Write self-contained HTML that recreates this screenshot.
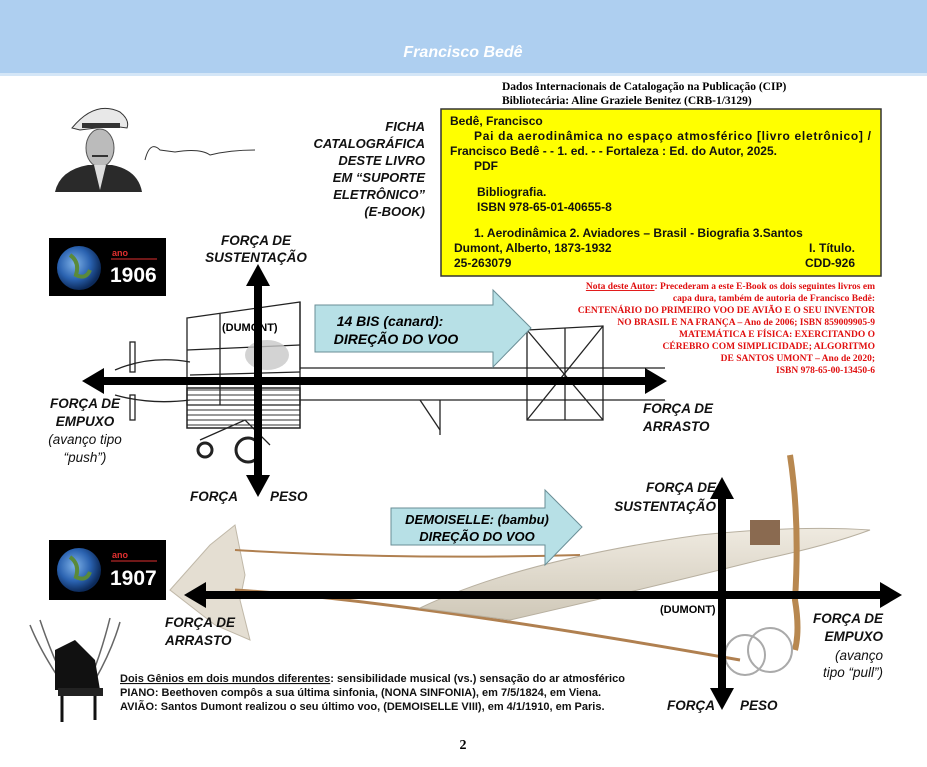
<!DOCTYPE html>
<html><head><meta charset="utf-8"><style>
html,body{margin:0;padding:0;background:#fff;}
body{width:927px;height:767px;overflow:hidden;position:relative;font-family:"Liberation Sans",sans-serif;}
svg{position:absolute;left:0;top:0;}
.b{font-weight:bold;}
.bi{font-weight:bold;font-style:italic;}
.ser{font-family:"Liberation Serif",serif;}
</style></head><body>
<svg width="927" height="767" viewBox="0 0 927 767" xmlns="http://www.w3.org/2000/svg" font-family="Liberation Sans, sans-serif">
<defs>
<radialGradient id="earth" cx="40%" cy="40%" r="60%"><stop offset="0" stop-color="#7fb2e8"/><stop offset="0.6" stop-color="#2a62b0"/><stop offset="1" stop-color="#0c2a5a"/></radialGradient>
<linearGradient id="wing" x1="0" y1="0" x2="0" y2="1"><stop offset="0" stop-color="#efeae0"/><stop offset="1" stop-color="#cfc8b8"/></linearGradient>
</defs>
<rect x="0" y="0" width="927" height="73" fill="#aecff0"/>
<rect x="0" y="73" width="927" height="3" fill="#d4e6f7"/>
<text x="463" y="57" text-anchor="middle" fill="#fff" font-size="16" class="bi">Francisco Bedê</text>

<!-- CIP -->
<text x="502" y="90" font-size="11.5" class="ser b" font-family="Liberation Serif, serif">Dados Internacionais de Catalogação  na Publicação  (CIP)</text>
<text x="502" y="104" font-size="11.5" font-weight="bold" font-family="Liberation Serif, serif">Bibliotecária:  Aline Graziele Benitez (CRB-1/3129)</text>
<rect x="441" y="109" width="440" height="167" fill="#ffff00" stroke="#333" stroke-width="1.5"/>
<g font-size="12" font-weight="bold" fill="#111">
<text x="450" y="125">Bedê,  Francisco</text>
<text x="474" y="140" textLength="397" lengthAdjust="spacing">Pai da aerodinâmica no espaço atmosférico [livro eletrônico] /</text>
<text x="450" y="155">Francisco Bedê  - -  1. ed. - - Fortaleza  :  Ed. do Autor, 2025.</text>
<text x="474" y="170">PDF</text>
<text x="477" y="196">Bibliografia.</text>
<text x="477" y="211">ISBN  978-65-01-40655-8</text>
<text x="474" y="237">1. Aerodinâmica  2. Aviadores – Brasil - Biografia 3.Santos</text>
<text x="454" y="252">Dumont, Alberto, 1873-1932</text>
<text x="855" y="252" text-anchor="end">I. Título.</text>
<text x="454" y="267">25-263079</text>
<text x="855" y="267" text-anchor="end">CDD-926</text>
</g>
<!-- note red -->
<g font-size="9.5" font-weight="bold" fill="#e01010" font-family="Liberation Serif, serif" text-anchor="end">
<text x="875" y="289"><tspan text-decoration="underline">Nota deste Autor</tspan>: Precederam a este E-Book os dois seguintes livros em</text>
<text x="875" y="301">capa dura, também de autoria de Francisco Bedê:</text>
<text x="875" y="313">CENTENÁRIO DO PRIMEIRO VOO DE AVIÃO E O SEU INVENTOR</text>
<text x="875" y="325">NO BRASIL E NA FRANÇA – Ano de 2006; ISBN 859009905-9</text>
<text x="875" y="337">MATEMÁTICA E FÍSICA: EXERCITANDO O</text>
<text x="875" y="349">CÉREBRO COM SIMPLICIDADE; ALGORITMO</text>
<text x="875" y="361">DE SANTOS UMONT – Ano de 2020;</text>
<text x="875" y="373">ISBN 978-65-00-13450-6</text>
</g>

<!-- portrait -->
<path d="M72 128 Q95 100 120 112 Q130 120 127 128 L112 126 L80 130 Z" fill="#e8e8e8" stroke="#333"/>
<rect x="82" y="123" width="38" height="5" fill="#333"/>
<ellipse cx="100" cy="148" rx="14" ry="19" fill="#bbb" stroke="#555"/>
<rect x="92" y="155" width="16" height="2" fill="#333"/>
<path d="M55 192 Q60 170 88 165 L112 165 Q138 170 142 192 Z" fill="#2a2a2a"/>
<path d="M94 165 L100 190 L106 165 Z" fill="#ddd"/>
<path d="M145 160 Q150 140 160 150 L175 152 Q200 148 210 155 Q230 150 255 150" fill="none" stroke="#333" stroke-width="1"/>
<g font-size="13" class="bi" fill="#111" text-anchor="end">
<text x="425" y="131">FICHA</text><text x="425" y="148">CATALOGRÁFICA</text><text x="425" y="165">DESTE LIVRO</text><text x="425" y="182">EM “SUPORTE</text><text x="425" y="199">ELETRÔNICO”</text><text x="425" y="216">(E-BOOK)</text>
</g>

<!-- earth boxes -->
<rect x="49" y="238" width="117" height="58" fill="#000"/>
<circle cx="79" cy="268" r="22" fill="url(#earth)"/><path d="M70 255 Q80 262 76 275 Q86 280 90 270" fill="none" stroke="#5a8a3a" stroke-width="4"/>
<text x="112" y="256" fill="#e03030" font-size="9" font-weight="bold">ano</text><line x1="111" y1="259" x2="157" y2="259" stroke="#e03030"/>
<text x="110" y="282" fill="#fff" font-size="21" font-weight="bold">1906</text>
<rect x="49" y="540" width="117" height="60" fill="#000"/>
<circle cx="79" cy="570" r="22" fill="url(#earth)"/><path d="M70 557 Q80 564 76 577 Q86 582 90 572" fill="none" stroke="#5a8a3a" stroke-width="4"/>
<text x="112" y="558" fill="#e03030" font-size="9" font-weight="bold">ano</text><line x1="111" y1="561" x2="157" y2="561" stroke="#e03030"/>
<text x="110" y="585" fill="#fff" font-size="21" font-weight="bold">1907</text>

<!-- 14 bis plane sketch -->
<g fill="none" stroke="#222" stroke-width="1.3">
<path d="M187 318 L300 302 L300 405 L187 405 Z"/>
<line x1="187" y1="350" x2="300" y2="345"/><line x1="220" y1="314" x2="220" y2="405"/><line x1="190" y1="375" x2="300" y2="372"/>
<path d="M300 302 L300 370"/><line x1="300" y1="368" x2="665" y2="368"/><line x1="300" y1="400" x2="665" y2="400"/>
<path d="M527 330 L603 326 L603 420 L527 420 Z"/><line x1="527" y1="330" x2="603" y2="420"/><line x1="603" y1="326" x2="527" y2="420"/><line x1="565" y1="328" x2="565" y2="420"/>
<path d="M115 370 Q150 355 190 362"/><path d="M115 395 Q150 405 190 400"/>
<rect x="130" y="342" width="5" height="30"/><rect x="130" y="395" width="5" height="25"/>
<circle cx="205" cy="450" r="7" stroke-width="3"/><circle cx="248" cy="450" r="12" stroke-width="3"/>
<path d="M200 440 L245 420 L270 445"/>
<line x1="420" y1="400" x2="440" y2="430"/><line x1="440" y1="400" x2="440" y2="435"/>
</g>
<g stroke="#333" stroke-width="1">
<line x1="187" y1="390" x2="300" y2="390"/><line x1="187" y1="395" x2="300" y2="395"/><line x1="187" y1="400" x2="300" y2="400"/><line x1="187" y1="410" x2="300" y2="410"/><line x1="187" y1="415" x2="300" y2="415"/><line x1="187" y1="420" x2="300" y2="420"/><line x1="187" y1="425" x2="300" y2="425"/>
</g>
<rect x="187" y="388" width="113" height="40" fill="none" stroke="#222" stroke-width="1.5"/>
<ellipse cx="267" cy="355" rx="22" ry="15" fill="#c8c8c8" opacity="0.8"/>
<text x="222" y="331" font-size="11" font-weight="bold">(DUMONT)</text>

<!-- demoiselle -->
<path d="M170 590 L210 545 L235 525 L245 575 L240 600 L250 640 L215 625 Z" fill="#e4ded2" stroke="#c0b8a8"/>
<path d="M235 550 Q400 560 580 555" fill="none" stroke="#b08050" stroke-width="2"/>
<path d="M235 590 Q400 600 740 660" fill="none" stroke="#b08050" stroke-width="3"/>
<path d="M420 608 Q520 560 700 535 Q800 525 870 530 Q830 545 760 560 Q640 590 510 620 Z" fill="url(#wing)" stroke="#b8b0a0"/>
<path d="M790 455 Q800 520 795 600 Q800 630 795 650" fill="none" stroke="#b88850" stroke-width="6"/>
<circle cx="770" cy="650" r="22" fill="none" stroke="#aaa" stroke-width="2"/><circle cx="745" cy="655" r="20" fill="none" stroke="#aaa" stroke-width="2"/>
<rect x="750" y="520" width="30" height="25" fill="#8a6a50"/>
<text x="660" y="613" font-size="11" font-weight="bold">(DUMONT)</text>

<!-- blue arrows -->
<path d="M315 305 L493 305 L493 290 L531 328 L493 367 L493 352 L315 352 Z" fill="#b7e0e6" stroke="#6a8e96" stroke-width="1"/>
<text x="390" y="326" text-anchor="middle" font-size="14" class="bi">14  BIS (canard):</text>
<text x="396" y="344" text-anchor="middle" font-size="14" class="bi">DIREÇÃO DO VOO</text>
<path d="M391 508 L545 508 L545 490 L582 527 L545 565 L545 545 L391 545 Z" fill="#b7e0e6" stroke="#6a8e96" stroke-width="1"/>
<text x="477" y="524" text-anchor="middle" font-size="13" class="bi">DEMOISELLE: (bambu)</text>
<text x="477" y="541" text-anchor="middle" font-size="13" class="bi">DIREÇÃO DO VOO</text>

<!-- force arrows 1 -->
<g fill="#000">
<rect x="101" y="377" width="548" height="8"/>
<path d="M82 381 L104 368 L104 394 Z"/><path d="M667 381 L645 368 L645 394 Z"/>
<rect x="254" y="282" width="8" height="200"/>
<path d="M258 264 L246 286 L270 286 Z"/><path d="M258 497 L246 475 L270 475 Z"/>
<!-- 2 -->
<rect x="202" y="591" width="680" height="8"/>
<path d="M184 595 L206 582 L206 608 Z"/><path d="M902 595 L880 582 L880 608 Z"/>
<rect x="718" y="495" width="8" height="197"/>
<path d="M722 477 L710 499 L734 499 Z"/><path d="M722 710 L710 688 L734 688 Z"/>
</g>

<g font-size="13.5" class="bi" fill="#111">
<text x="256" y="245" text-anchor="middle">FORÇA DE</text>
<text x="256" y="262" text-anchor="middle">SUSTENTAÇÃO</text>
<text x="85" y="408" text-anchor="middle">FORÇA DE</text>
<text x="85" y="426" text-anchor="middle">EMPUXO</text>
<text x="85" y="444" text-anchor="middle" font-weight="normal">(avanço tipo</text>
<text x="85" y="462" text-anchor="middle" font-weight="normal">“push”)</text>
<text x="643" y="413">FORÇA DE</text><text x="643" y="431">ARRASTO</text>
<text x="190" y="501">FORÇA</text><text x="270" y="501">PESO</text>
<text x="716" y="492" text-anchor="end">FORÇA DE</text>
<text x="716" y="511" text-anchor="end">SUSTENTAÇÃO</text>
<text x="165" y="627">FORÇA DE</text><text x="165" y="645">ARRASTO</text>
<text x="883" y="623" text-anchor="end">FORÇA DE</text>
<text x="883" y="641" text-anchor="end">EMPUXO</text>
<text x="883" y="660" text-anchor="end" font-weight="normal">(avanço</text>
<text x="883" y="677" text-anchor="end" font-weight="normal">tipo “pull”)</text>
<text x="667" y="710">FORÇA</text><text x="740" y="710">PESO</text>
</g>

<!-- piano -->
<path d="M30 625 Q40 650 60 680 M40 620 Q50 650 62 675 M120 622 Q112 650 95 680 M110 618 Q102 650 92 675" fill="none" stroke="#666" stroke-width="1.5"/>
<path d="M55 650 L75 640 L95 660 L100 690 L55 690 Z" fill="#111"/>
<rect x="58" y="688" width="45" height="8" fill="#222"/>
<line x1="62" y1="696" x2="62" y2="722" stroke="#111" stroke-width="3"/><line x1="95" y1="696" x2="95" y2="720" stroke="#111" stroke-width="3"/>

<g font-size="11" font-weight="bold" fill="#111">
<text x="120" y="682"><tspan text-decoration="underline">Dois Gênios em dois mundos diferentes</tspan>: sensibilidade musical (vs.) sensação do ar atmosférico</text>
<text x="120" y="696">PIANO:   Beethoven compôs a sua última sinfonia, (NONA  SINFONIA),   em 7/5/1824, em Viena.</text>
<text x="120" y="710">AVIÃO:  Santos Dumont realizou o seu último voo, (DEMOISELLE  VIII), em 4/1/1910, em Paris.</text>
</g>
<text x="463" y="749" text-anchor="middle" font-size="14" font-weight="bold" font-family="Liberation Serif, serif">2</text>
</svg>
</body></html>
